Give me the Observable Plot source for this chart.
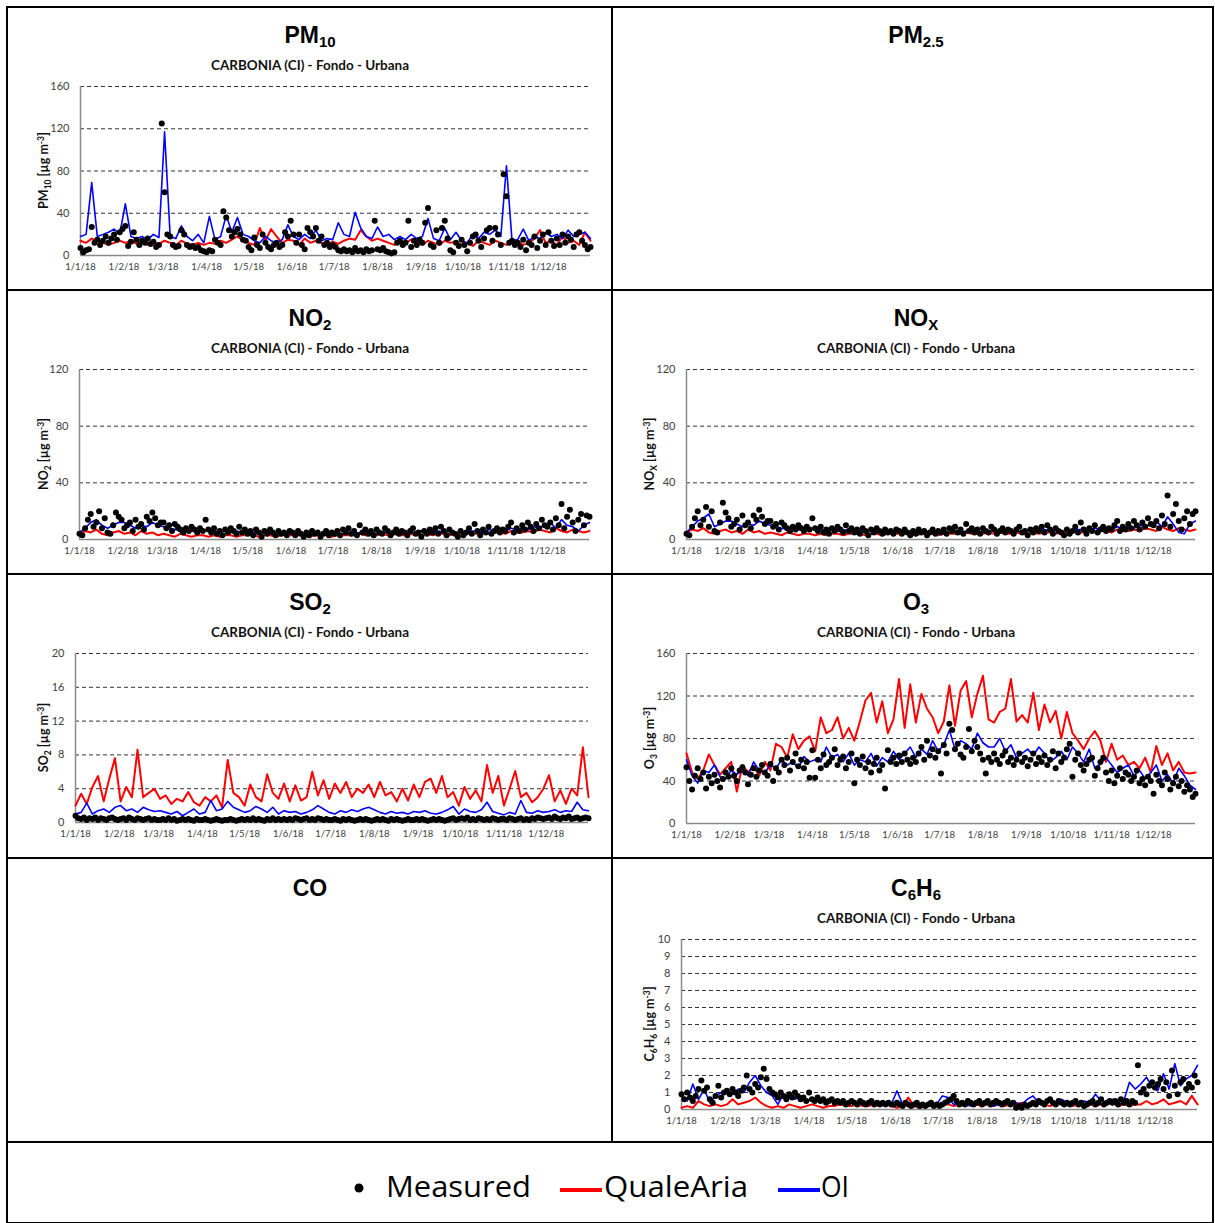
<!DOCTYPE html>
<html><head><meta charset="utf-8">
<script src="https://cdn.jsdelivr.net/npm/d3@7"></script>
<script src="https://cdn.jsdelivr.net/npm/@observablehq/plot@0.6"></script>
<style>
body{margin:0;background:#fff;}
#root{position:relative;width:1215px;height:1223px;overflow:hidden;background:#fff;}
.panel{position:absolute;}
#overlay{position:absolute;left:0;top:0;pointer-events:none;}
</style></head><body><div id="root"></div>
<script>
// ---------- tick labels ----------
const monthLabels = ["1/1/18","1/2/18","1/3/18","1/4/18","1/5/18","1/6/18","1/7/18","1/8/18","1/9/18","1/10/18","1/11/18","1/12/18"];
const yTicksPM10 = [0,40,80,120,160];
const yTicksNO = [0,40,80,120];
const yTicksSO2 = [0,4,8,12,16,20];
const yTicksO3 = [0,40,80,120,160];
const yTicksC6H6 = [0,1,2,3,4,5,6,7,8,9,10];
const seriesNames = ["Measured","QualeAria","OI"];

// ---------- PM10 ----------
const pm10Measured = [7,3,5,6,27,12,15,10,14,18,12,16,20,15,22,25,
 28,9,13,22,15,10,14,12,16,11,13,8,10,125,
 60,20,18,10,8,9,24,20,10,8,9,7,8,5,4,
 3,5,4,15,12,10,42,36,24,18,22,25,20,15,14,
 8,5,17,10,7,20,12,8,6,10,12,8,10,22,18,33,
 20,12,20,10,6,26,22,18,26,14,18,10,12,8,10,
 8,5,4,6,4,5,3,7,4,5,3,6,4,5,33,
 6,5,7,4,3,2,3,12,14,10,12,33,8,14,10,15,
 12,31,45,10,8,24,12,26,33,16,5,3,12,9,15,
 10,4,12,18,20,14,8,16,24,26,14,26,20,10,77,
 56,12,14,10,12,8,15,5,12,10,18,7,14,20,10,
 22,14,9,16,10,20,12,18,15,8,20,22,14,10,6,8];
const pm10QualeAria = [14,12,16,14,12,10,12,14, 12,14,11,12,10,13,11, 14,12,10,14,11,10,12,10,
 12,11,14,12,15,18,14,12, 10,26,14,25,18,12,15,14, 10,16,12,14,12,10,13,11,
 14,16,15,24,18,14,16,14, 12,10,14,12,15,12,10,14, 12,10,14,12,13,10,12,9,
 14,12,10,14,12,10,12,14, 10,12,16,24,12,14,10,18,12,14,10,22,14];
const pm10OI = [18,20,69,18,20,22,25,20, 49,18,16,18,15,20,17, 117,18,16,28,18,14,20,12,
 37,15,18,38,22,36,20,18, 14,12,18,14,12,15,29,18, 15,20,16,24,14,16,15,31,
 20,18,41,26,18,16,27,18, 20,15,18,15,20,16,18,35, 16,14,26,15,22,14,12,20,
 16,22,20,24,18,85,14,15, 25,14,18,16,22,18,20,16,24,18,20,22,16];

// ---------- NO2 ----------
const no2Measured = [4,3,8,14,18,9,12,20,8,15,5,4,10,19,16,14,
 8,10,12,6,14,9,11,7,16,13,19,15,10,12,
 12,8,10,6,11,9,7,5,8,6,9,7,5,8,6,
 14,7,5,8,4,6,3,7,5,8,6,4,9,5,7,
 4,6,3,7,5,2,6,4,7,5,3,6,4,5,3,6,
 5,3,6,4,2,5,3,6,4,5,2,4,6,3,5,
 4,6,3,7,5,8,4,6,3,10,5,7,4,6,3,
 7,5,4,8,6,3,5,7,4,6,5,3,6,8,4,5,
 2,6,4,7,5,8,4,9,6,3,7,5,4,2,6,
 3,5,8,4,11,6,3,7,5,9,4,6,8,5,7,
 6,9,12,5,8,6,10,7,12,9,6,11,8,14,10,
 9,12,7,15,10,25,8,16,21,12,6,14,18,10,17,16];
const no2QualeAria = [4,6,5,7,4,3,5,6, 4,5,3,6,4,5,3, 4,3,2,4,3,2,3,3, 2,3,2,3,3,2,3,3,
 3,2,3,3,2,3,3,3, 3,3,2,3,3,3,2,3, 3,3,3,4,3,3,3,4, 3,4,3,3,4,3,3,4,
 3,4,4,3,4,4,5,4, 4,5,4,5,5,4,6,5, 5,6,5,7,6,5,8,6,5,7,6,5,6];
const no2OI = [5,8,12,14,10,8,10,12, 12,10,8,10,9,12,10, 9,8,7,6,8,6,7,6, 7,6,5,6,5,6,5,6,
 5,4,5,4,5,4,5,4, 4,3,4,4,3,4,4,3, 4,5,4,5,4,5,4,5, 5,4,5,4,5,4,6,5,
 5,6,5,6,4,6,5,6, 6,5,7,6,7,6,8,7, 8,7,9,8,10,12,8,14,10,9,6,10,12];

// ---------- NOx ----------
const noxMeasured = [4,3,9,15,20,10,14,23,9,20,6,5,12,26,19,15,
 9,11,14,7,17,10,12,8,17,14,21,16,11,13,
 13,9,11,7,12,10,8,6,9,7,10,8,6,9,7,
 15,8,6,9,5,7,4,8,6,9,7,5,10,6,8,
 5,7,4,8,6,3,7,5,8,6,4,7,5,6,4,7,
 6,4,7,5,3,6,4,7,5,6,3,5,7,4,6,
 5,7,4,8,6,9,5,7,4,11,6,8,5,7,4,
 8,6,5,9,7,4,6,8,5,7,6,4,7,9,5,6,
 3,7,5,8,6,9,5,10,7,4,8,6,5,3,7,
 4,6,9,5,12,7,4,8,6,10,5,7,9,6,8,
 7,10,13,6,9,7,11,8,13,10,7,12,9,15,11,
 10,13,8,17,11,31,9,18,25,13,7,15,20,11,18,20];
const noxQualeAria = [5,7,6,8,5,4,6,7, 5,6,4,7,5,6,4, 5,4,3,5,4,3,4,4, 3,4,3,4,4,3,4,4,
 4,3,4,4,3,4,4,4, 4,4,3,4,4,4,3,4, 4,4,4,5,4,4,4,5, 4,5,4,4,5,4,4,5,
 4,5,5,4,5,5,6,5, 5,6,5,6,6,5,7,6, 6,7,6,8,7,6,9,7,6,8,7,6,7];
const noxOI = [5,9,13,15,18,9,11,13, 13,11,9,11,10,13,11, 10,9,8,7,9,7,8,7, 8,7,6,7,6,7,6,7,
 6,5,6,5,6,5,6,5, 5,4,5,5,4,5,5,4, 5,6,5,6,5,6,5,6, 6,5,6,5,6,5,7,6,
 6,7,6,7,5,7,6,7, 7,6,8,7,8,7,9,8, 9,8,10,9,11,13,9,16,11,5,4,11,13];

// ---------- SO2 ----------
const so2Measured = [0.8,0.5,0.4,0.6,0.3,0.5,0.4,0.6,0.3,0.5,0.4,0.3,0.5,0.6,0.4,0.3,
 0.4,0.5,0.3,0.6,0.4,0.3,0.5,0.4,0.3,0.4,0.5,0.3,0.4,0.3,
 0.3,0.4,0.3,0.5,0.3,0.4,0.2,0.3,0.4,0.3,0.4,0.3,0.2,0.4,0.3,
 0.3,0.4,0.3,0.2,0.3,0.4,0.3,0.2,0.3,0.3,0.4,0.3,0.2,0.3,0.4,
 0.3,0.4,0.3,0.5,0.3,0.4,0.3,0.2,0.4,0.3,0.5,0.3,0.4,0.3,0.4,0.3,
 0.4,0.3,0.5,0.4,0.3,0.4,0.5,0.3,0.4,0.3,0.5,0.4,0.3,0.4,0.3,
 0.3,0.4,0.3,0.2,0.4,0.3,0.4,0.3,0.2,0.3,0.4,0.3,0.4,0.3,0.2,
 0.3,0.4,0.3,0.4,0.3,0.2,0.4,0.3,0.4,0.3,0.2,0.3,0.4,0.3,0.3,0.4,
 0.3,0.4,0.3,0.2,0.3,0.4,0.3,0.4,0.3,0.2,0.3,0.4,0.5,0.3,0.4,
 0.5,0.4,0.6,0.3,0.4,0.3,0.5,0.4,0.3,0.4,0.3,0.5,0.4,0.3,0.4,
 0.4,0.3,0.5,0.4,0.3,0.4,0.5,0.3,0.4,0.3,0.5,0.4,0.6,0.5,0.4,
 0.5,0.6,0.4,0.7,0.5,0.4,0.6,0.5,0.7,0.4,0.5,0.6,0.4,0.5,0.6,0.5];
const so2QualeAria = [2.0,3.4,2.2,4.2,5.5,2.5,5.2,7.6, 2.5,4.2,3.0,8.6,3.0,3.5,4.0,
 2.8,3.2,2.2,2.8,2.5,3.6,2.4,2.0, 3.0,2.5,3.2,1.8,7.4,3.5,3.0,2.0,
 4.5,3.0,2.5,5.7,3.5,2.8,4.6,2.5, 4.4,2.6,3.0,6.0,3.2,5.0,2.8,4.6,
 3.5,4.8,3.0,4.0,3.5,4.5,3.0,4.8, 3.2,3.6,2.5,4.0,2.6,4.5,3.0,4.8,
 5.2,3.5,5.5,3.0,3.6,2.0,4.2,2.8, 3.8,2.5,6.8,3.5,5.5,2.0,4.0,6.1,
 3.0,3.5,2.4,3.0,4.0,5.6,2.5,3.8,2.2,4.0,3.2,8.9,3.0];
const so2OI = [1.0,1.2,2.3,1.0,1.4,1.6,1.2,1.8, 2.0,1.4,1.6,1.2,1.8,1.5,1.3,
 1.4,1.2,1.0,1.3,0.8,1.2,1.6,1.0, 1.2,2.6,1.4,1.6,2.5,1.8,1.5,1.2,
 1.4,1.9,1.6,1.2,1.8,1.0,1.4,1.2, 1.3,1.0,1.2,1.5,2.0,1.6,1.2,1.0,
 1.4,1.2,1.5,1.3,1.6,1.8,1.5,1.2, 1.0,1.3,1.1,1.2,1.0,1.3,1.2,1.4,
 1.1,1.0,1.2,1.5,1.9,1.0,1.6,1.3, 1.2,1.5,2.4,1.3,1.1,0.9,1.2,1.0,
 2.6,1.2,1.1,1.4,1.2,1.3,1.5,1.2,1.4,1.3,2.4,1.5,1.4];

// ---------- O3 ----------
const o3Measured = [53,40,32,45,52,42,48,33,44,38,46,40,34,42,48,44,
 52,45,40,50,53,48,37,46,52,44,50,55,48,45,
 56,40,52,48,60,55,62,50,58,66,54,60,52,58,43,
 69,43,60,52,65,55,58,62,70,55,60,63,52,58,66,
 38,60,55,63,52,58,48,56,62,50,55,33,69,58,62,56,
 64,58,66,60,56,62,58,66,72,60,78,64,70,62,68,
 47,74,66,94,88,70,75,65,62,72,89,68,78,72,66,
 60,47,62,58,66,60,56,64,68,58,62,55,60,66,58,62,
 54,60,66,56,62,58,64,55,60,68,52,66,58,62,70,
 75,44,60,66,55,50,56,60,62,45,52,58,62,48,40,
 50,38,45,52,42,48,46,40,44,50,38,42,36,44,40,
 28,46,40,36,48,42,32,38,44,35,40,30,36,32,25,28];
const o3QualeAria = [66,48,42,50,65,55,46,52, 58,30,55,48,54,45,58,
 50,75,72,62,84,70,78,82, 68,100,85,88,100,80,90,78,
 96,116,123,95,115,85,98,136, 90,131,95,122,108,100,85,96,
 130,92,125,134,100,122,139,98, 95,105,108,136,96,102,95,123,
 88,112,95,106,80,105,85,78, 70,80,87,78,58,75,60,64,
 55,58,52,62,48,73,55,66,50,58,48,47,48];
const o3OI = [60,45,38,50,48,55,44,42, 50,46,52,45,58,50,48,
 55,52,60,55,58,52,63,58, 60,58,72,62,65,58,66,55,
 60,58,66,54,62,58,68,60, 66,72,62,70,65,78,68,74,
 88,70,78,75,70,85,76,72, 72,80,68,74,62,66,70,64,
 72,66,58,62,68,60,72,66, 58,70,52,56,62,55,48,52,
 55,45,50,42,48,55,40,46,38,52,45,36,32];

// ---------- C6H6 ----------
const c6h6Measured = [0.9,0.6,1.0,0.7,0.5,0.8,1.2,1.7,1.1,1.3,0.6,0.4,0.8,1.4,0.7,1.0,
 1.1,0.9,1.2,1.0,0.8,1.1,1.3,2.0,1.2,1.0,1.5,1.3,1.9,2.4,
 1.8,1.2,1.0,0.9,0.7,1.0,0.8,0.6,0.9,0.7,1.0,0.8,0.6,0.7,0.5,
 1.0,0.6,0.5,0.7,0.5,0.6,0.4,0.5,0.6,0.4,0.5,0.4,0.5,0.3,0.4,
 0.5,0.4,0.3,0.5,0.4,0.3,0.4,0.5,0.3,0.4,0.3,0.4,0.3,0.4,0.3,0.3,
 0.4,0.3,0.2,0.4,0.3,0.2,0.3,0.4,0.2,0.3,0.2,0.3,0.4,0.2,0.3,
 0.2,0.3,0.4,0.5,0.6,0.8,0.5,0.3,0.4,0.3,0.5,0.4,0.3,0.4,0.5,
 0.3,0.4,0.5,0.3,0.4,0.5,0.4,0.3,0.4,0.5,0.3,0.4,0.1,0.2,0.1,0.3,
 0.2,0.3,0.4,0.3,0.5,0.4,0.3,0.5,0.6,0.4,0.3,0.5,0.4,0.3,0.4,
 0.3,0.4,0.5,0.3,0.4,0.2,0.3,0.4,0.5,0.3,0.4,0.6,0.3,0.4,0.5,
 0.4,0.5,0.3,0.6,0.4,0.5,0.3,0.5,0.4,2.6,1.0,1.2,0.9,1.4,1.6,
 1.3,1.5,1.8,1.2,1.6,0.8,2.3,1.4,0.9,1.6,1.8,1.2,1.5,1.3,2.0,1.6];
const c6h6QualeAria = [0.1,0.2,0.1,0.5,0.3,0.2,0.3,0.2, 0.3,0.6,0.3,0.4,0.5,0.7,0.4,
 0.2,0.1,0.2,0.1,0.3,0.2,0.1,0.2, 0.3,0.2,0.1,0.2,0.2,0.3,0.2,0.2,
 0.3,0.2,0.2,0.3,0.2,0.3,0.2,0.1, 0.2,0.7,0.2,0.1,0.2,0.2,0.3,0.4,
 0.3,0.2,0.3,0.2,0.3,0.3,0.2,0.3, 0.2,0.3,0.2,0.3,0.3,0.4,0.2,0.3,
 0.6,0.3,0.2,0.3,0.4,0.3,0.2,0.3, 0.2,0.3,0.2,0.3,0.3,0.4,0.2,0.3,
 0.2,0.3,0.3,0.5,0.3,0.4,0.6,0.3,0.4,0.5,0.3,0.8,0.3];
const c6h6OI = [0.8,0.5,1.5,0.6,1.2,0.4,0.8,1.0, 1.1,0.9,1.2,1.0,1.6,2.0,1.4,
 1.0,0.8,0.3,0.9,0.7,0.6,0.8,0.5, 0.6,0.5,0.5,0.6,0.4,0.5,0.4,0.4,
 0.4,0.3,0.4,0.3,0.4,0.3,0.3,1.1, 0.3,0.4,0.2,0.3,0.2,0.3,0.3,0.8,
 0.7,0.3,0.4,0.3,0.2,0.3,0.4,0.3, 0.2,0.3,0.4,0.3,0.4,0.3,0.6,0.8,
 0.4,0.3,0.5,0.4,0.6,0.4,0.5,0.3, 0.5,0.4,0.9,0.5,0.4,0.6,0.5,0.5,
 1.6,1.2,1.5,1.9,1.3,1.1,2.1,1.2,2.7,1.4,1.8,2.0,2.6];

// ---------- layout ----------
const start = Date.UTC(2018,0,1);
const DAY = 864e5;
const monthTicks = monthLabels.map((_, i) => new Date(Date.UTC(2018, i, 1)));
function toSeries(vals){
  const n = vals.length;
  return vals.map((v, i) => ({date: new Date(start + i * 364 / (n - 1) * DAY), value: v}));
}
const unit = [[" [µg m",0],["-3",-1],["]",0]];
const panels = [
  {title:[["PM",0],["10",1]], cell:[7,7], frame:[80,590,86,255], ymax:160, yticks:yTicksPM10,
   ylab:[["PM",0],["10",1]], m:pm10Measured, q:pm10QualeAria, o:pm10OI},
  {title:[["PM",0],["2.5",1]], cell:[613,7]},
  {title:[["NO",0],["2",1]], cell:[7,290], frame:[79,589,369,539], ymax:120, yticks:yTicksNO,
   ylab:[["NO",0],["2",1]], m:no2Measured, q:no2QualeAria, o:no2OI},
  {title:[["NO",0],["X",1]], cell:[613,290], frame:[686,1195,369,539], ymax:120, yticks:yTicksNO,
   ylab:[["NO",0],["X",1]], m:noxMeasured, q:noxQualeAria, o:noxOI},
  {title:[["SO",0],["2",1]], cell:[7,574], frame:[75,588,653,822], ymax:20, yticks:yTicksSO2,
   ylab:[["SO",0],["2",1]], m:so2Measured, q:so2QualeAria, o:so2OI},
  {title:[["O",0],["3",1]], cell:[613,574], frame:[686,1195,653,823], ymax:160, yticks:yTicksO3,
   ylab:[["O",0],["3",1]], m:o3Measured, q:o3QualeAria, o:o3OI},
  {title:[["CO",0]], cell:[7,858], row4:true},
  {title:[["C",0],["6",1],["H",0],["6",1]], cell:[613,858], row4:true, frame:[681,1197,939,1109], ymax:10, yticks:yTicksC6H6,
   ylab:[["C",0],["6",1],["H",0],["6",1]], m:c6h6Measured, q:c6h6QualeAria, o:c6h6OI}
];

const root = document.getElementById("root");

for (const p of panels) {
  if (!p.frame) continue;
  const [cx, cy] = p.cell;
  const cw = cx === 7 ? 604 : 600;
  const [x0, x1, yT, yB] = p.frame;
  const mt = 12, mb = 30;
  const chart = Plot.plot({
    width: cw, height: (yB - yT) + mt + mb,
    marginLeft: x0 - cx, marginRight: cx + cw - x1, marginTop: mt, marginBottom: mb,
    style: {background: "transparent", fontFamily: "Lato, sans-serif", color: "#404040", overflow: "visible"},
    x: {type: "utc", domain: [new Date(start), new Date(start + 364 * DAY)]},
    y: {domain: [0, p.ymax]},
    marks: [
      Plot.ruleY(p.yticks.filter(t => t > 0), {stroke: "#333", strokeWidth: 1, strokeDasharray: "4,3"}),
      Plot.ruleX([new Date(start)], {stroke: "#8a8a8a", strokeWidth: 1.5}),
      Plot.ruleY([0], {stroke: "#8a8a8a", strokeWidth: 1.5}),
      Plot.lineY(toSeries(p.q), {x: "date", y: "value", stroke: "#ff0000", strokeWidth: 2}),
      Plot.lineY(toSeries(p.o), {x: "date", y: "value", stroke: "#0000ff", strokeWidth: 1.6}),
      Plot.dot(toSeries(p.m), {x: "date", y: "value", r: 3, fill: "#000"}),
      Plot.axisX({ticks: monthTicks, tickFormat: d => monthLabels[d.getUTCMonth()], tickSize: 0, tickPadding: 8, fontSize: 9.5, label: null}),
      Plot.axisY({ticks: p.yticks, tickSize: 0, tickPadding: 11, fontSize: 11, label: null})
    ]
  });
  const div = document.createElement("div");
  div.className = "panel";
  div.style.left = cx + "px";
  div.style.top = (yT - mt) + "px";
  div.appendChild(chart);
  root.appendChild(div);
}

// ---------- overlay: borders, titles, labels, legend ----------
function rich(parts, subSize, down, up) {
  let s = "", off = 0;
  for (const [t, k] of parts) {
    const target = k === 1 ? down : k === -1 ? -up : 0;
    const dy = target - off; off = target;
    s += `<tspan${dy ? ` dy="${dy}"` : ""}${k ? ` font-size="${subSize}"` : ""}>${t}</tspan>`;
  }
  return s;
}
let o = `<svg id="overlay" width="1215" height="1223" xmlns="http://www.w3.org/2000/svg">`;
o += `<rect x="7" y="7" width="1206" height="1216" fill="none" stroke="#000" stroke-width="2"/>`;
for (const y of [290, 574, 858, 1142]) o += `<line x1="7" x2="1213" y1="${y}" y2="${y}" stroke="#000" stroke-width="2"/>`;
o += `<line x1="612" x2="612" y1="7" y2="1142" stroke="#000" stroke-width="2"/>`;

for (const p of panels) {
  const [cx, cy] = p.cell;
  const center = cx === 7 ? 310 : 916;
  const tb = cy + (p.row4 ? 38 : 36);
  o += `<text x="${center}" y="${tb}" text-anchor="middle" font-family="Liberation Sans, Arial, sans-serif" font-weight="bold" font-size="23" fill="#000">${rich(p.title, 15, 4, 0)}</text>`;
  if (!p.frame) continue;
  const sb = cy + (p.row4 ? 65 : 62.5);
  o += `<text x="${center}" y="${sb}" text-anchor="middle" font-family="Lato, sans-serif" font-weight="bold" font-size="12.5" fill="#111" textLength="198" lengthAdjust="spacingAndGlyphs">CARBONIA (CI) - Fondo - Urbana</text>`;
  const [x0, x1, yT, yB] = p.frame;
  const lx = cx + 41, ly = (yT + yB) / 2;
  o += `<text transform="translate(${lx},${ly}) rotate(-90)" text-anchor="middle" font-family="Lato, sans-serif" font-weight="bold" font-size="12.5" fill="#111">${rich(p.ylab.concat(unit), 8.5, 2.5, 4)}</text>`;
}

// legend
o += `<circle cx="359" cy="1188" r="4.5" fill="#000"/>`;
o += `<text x="386" y="1197" font-family="Open Sans, sans-serif" font-size="30" fill="#000" textLength="145" lengthAdjust="spacingAndGlyphs">${seriesNames[0]}</text>`;
o += `<line x1="560" x2="602" y1="1190" y2="1190" stroke="#ff0000" stroke-width="4"/>`;
o += `<text x="604" y="1197" font-family="Open Sans, sans-serif" font-size="30" fill="#000" textLength="144" lengthAdjust="spacingAndGlyphs">${seriesNames[1]}</text>`;
o += `<line x1="778" x2="820" y1="1190" y2="1190" stroke="#0000ff" stroke-width="4"/>`;
o += `<text x="821" y="1197" font-family="Open Sans, sans-serif" font-size="30" fill="#000" textLength="28" lengthAdjust="spacingAndGlyphs">${seriesNames[2]}</text>`;
o += `</svg>`;
root.insertAdjacentHTML("beforeend", o);
</script></body></html>
